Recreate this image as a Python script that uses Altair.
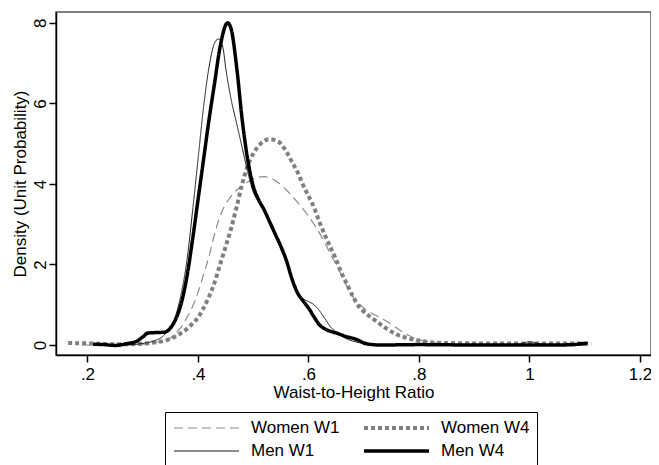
import altair as alt
import pandas as pd

# ---- data ----
series_names = ["Women W1", "Women W4", "Men W1", "Men W4"]

women_w1_x = [0.19, 0.25, 0.30, 0.33, 0.35, 0.36, 0.37, 0.38, 0.39, 0.40, 0.41, 0.42, 0.43, 0.44,
              0.45, 0.46, 0.47, 0.48, 0.49, 0.50, 0.51, 0.52, 0.53, 0.54, 0.55, 0.56, 0.57, 0.58,
              0.59, 0.60, 0.61, 0.62, 0.63, 0.64, 0.65, 0.66, 0.67, 0.68, 0.69, 0.70, 0.72, 0.74,
              0.76, 0.78, 0.80, 0.82, 0.85, 0.90, 1.00, 1.10]
women_w1_y = [0.0, 0.0, 0.02, 0.08, 0.17, 0.30, 0.45, 0.68, 0.95, 1.30, 1.75, 2.20, 2.75, 3.20,
              3.50, 3.70, 3.85, 3.95, 4.05, 4.12, 4.17, 4.18, 4.15, 4.08, 3.98, 3.85, 3.70, 3.55,
              3.38, 3.20, 3.00, 2.78, 2.53, 2.25, 2.00, 1.72, 1.45, 1.20, 1.05, 0.92, 0.75, 0.60,
              0.42, 0.25, 0.13, 0.07, 0.03, 0.01, 0.0, 0.0]

women_w4_x = [0.165, 0.20, 0.25, 0.28, 0.30, 0.32, 0.34, 0.36, 0.37, 0.38, 0.39, 0.40, 0.41, 0.42,
              0.43, 0.44, 0.45, 0.46, 0.47, 0.48, 0.49, 0.50, 0.51, 0.52, 0.53, 0.54, 0.55, 0.56,
              0.57, 0.58, 0.59, 0.60, 0.61, 0.62, 0.63, 0.64, 0.65, 0.66, 0.67, 0.68, 0.69, 0.70,
              0.72, 0.74, 0.76, 0.78, 0.80, 0.83, 0.90, 1.00, 1.10, 1.112]
women_w4_y = [0.05, 0.04, 0.02, 0.02, 0.03, 0.06, 0.11, 0.22, 0.30, 0.40, 0.53, 0.68, 0.92, 1.20,
              1.55, 2.00, 2.44, 2.90, 3.43, 4.00, 4.45, 4.75, 4.95, 5.07, 5.11, 5.08, 5.00, 4.80,
              4.55, 4.30, 3.98, 3.70, 3.42, 3.05, 2.72, 2.42, 2.12, 1.78, 1.50, 1.22, 0.98, 0.83,
              0.62, 0.42, 0.26, 0.17, 0.11, 0.06, 0.04, 0.04, 0.04, 0.04]

men_w1_x = [0.21, 0.25, 0.28, 0.30, 0.32, 0.335, 0.35, 0.36, 0.37, 0.38, 0.39, 0.40, 0.41, 0.42,
            0.43, 0.437, 0.445, 0.45, 0.46, 0.47, 0.48, 0.49, 0.50, 0.51, 0.52, 0.53, 0.54, 0.55,
            0.56, 0.57, 0.58, 0.59, 0.60, 0.61, 0.62, 0.63, 0.64, 0.65, 0.66, 0.67, 0.68, 0.70,
            0.72, 0.80, 0.90, 0.98, 1.00, 1.02, 1.05, 1.10]
men_w1_y = [0.0, 0.0, 0.01, 0.04, 0.10, 0.20, 0.45, 0.75, 1.30, 2.10, 3.30, 4.60, 5.90, 6.90,
            7.50, 7.60, 7.40, 6.90, 6.10, 5.50, 4.90, 4.30, 3.80, 3.55, 3.35, 3.00, 2.70, 2.40,
            2.05, 1.60, 1.30, 1.15, 1.08, 1.00, 0.85, 0.65, 0.45, 0.32, 0.22, 0.15, 0.10, 0.04,
            0.01, 0.0, 0.0, 0.02, 0.08, 0.03, 0.0, 0.0]

men_w4_x = [0.21, 0.23, 0.25, 0.27, 0.29, 0.30, 0.31, 0.325, 0.34, 0.35, 0.36, 0.37, 0.38, 0.39,
            0.40, 0.41, 0.42, 0.43, 0.44, 0.4536, 0.46, 0.47, 0.48, 0.49, 0.50, 0.51, 0.52, 0.53,
            0.54, 0.55, 0.56, 0.57, 0.58, 0.59, 0.60, 0.61, 0.62, 0.63, 0.64, 0.65, 0.66, 0.67,
            0.68, 0.69, 0.70, 0.71, 0.73, 0.80, 0.90, 1.00, 1.05, 1.08, 1.10, 1.105]
men_w4_y = [0.02, 0.01, -0.01, 0.03, 0.10, 0.20, 0.30, 0.31, 0.32, 0.42, 0.65, 1.05, 1.70, 2.60,
            3.60, 4.60, 5.60, 6.50, 7.40, 8.00, 7.85, 6.90, 5.60, 4.60, 3.95, 3.60, 3.35, 3.05,
            2.75, 2.45, 2.10, 1.65, 1.30, 1.10, 0.92, 0.70, 0.50, 0.40, 0.34, 0.30, 0.25, 0.20,
            0.17, 0.12, 0.05, 0.02, 0.0, 0.01, 0.0, 0.0, 0.0, 0.01, 0.04, 0.03]

x_tick_values = [0.2, 0.4, 0.6, 0.8, 1.0, 1.2]
x_tick_labels = [".2", ".4", ".6", ".8", "1", "1.2"]
y_tick_values = [0, 2, 4, 6, 8]

# ---- table ----
frames = []
for name, xs, ys in [("Women W1", women_w1_x, women_w1_y),
                     ("Women W4", women_w4_x, women_w4_y),
                     ("Men W1", men_w1_x, men_w1_y),
                     ("Men W4", men_w4_x, men_w4_y)]:
    frames.append(pd.DataFrame({"ratio": xs, "density": ys, "series": name}))
df = pd.concat(frames, ignore_index=True)

# label expression from the tick arrays
expr = "''"
for v, lab in reversed(list(zip(x_tick_values, x_tick_labels))):
    expr = f"abs(datum.value - {v}) < 0.001 ? '{lab}' : ({expr})"

FONT = "Liberation Sans"

legend = alt.Legend(
    title=None, orient="none", legendX=109, legendY=400,
    direction="horizontal", columns=2,
    strokeColor="black", fillColor="white", padding=7, cornerRadius=0,
    labelFont=FONT, labelFontSize=17, labelColor="black",
    symbolType="stroke", symbolSize=4225, clipHeight=18,
    labelOffset=10, columnPadding=22, rowPadding=5,
)

chart = alt.Chart(df).mark_line(interpolate="monotone").encode(
    x=alt.X("ratio:Q",
            scale=alt.Scale(domain=[0.143, 1.22], nice=False, zero=False),
            axis=alt.Axis(values=x_tick_values, labelExpr=expr,
                          title="Waist-to-Height Ratio", grid=False)),
    y=alt.Y("density:Q",
            scale=alt.Scale(domain=[-0.248, 8.27], nice=False, zero=False),
            axis=alt.Axis(values=y_tick_values, format="d", labelAngle=-90,
                          labelAlign="center", labelBaseline="alphabetic",
                          title="Density (Unit Probability)", grid=False)),
    color=alt.Color("series:N",
                    scale=alt.Scale(domain=series_names,
                                    range=["#8c8c8c", "#7f7f7f", "#1a1a1a", "#000000"]),
                    legend=legend),
    strokeDash=alt.StrokeDash("series:N",
                              scale=alt.Scale(domain=series_names,
                                              range=[[9, 5], [4, 3], [1, 0], [1, 0]]),
                              legend=legend),
    strokeWidth=alt.StrokeWidth("series:N",
                                scale=alt.Scale(type="ordinal", domain=series_names,
                                                range=[1.2, 4, 1, 3.5]),
                                legend=legend),
).properties(
    width=595, height=343,
    background="white",
    autosize=alt.AutoSizeParams(type="none"),
    padding={"left": 48, "top": 4, "right": 0, "bottom": 110},
).configure_view(
    stroke="#555555", strokeWidth=1.5
).configure_axis(
    labelFont=FONT, labelFontSize=17, labelColor="black",
    titleFont=FONT, titleFontSize=17, titleFontWeight="normal", titleColor="black",
    domainColor="black", domainWidth=1.5, tickColor="black", tickWidth=1.5, tickSize=7,
    labelPadding=4, titlePadding=2,
)

chart.save("out.html", embed_options={"renderer": "svg", "actions": False})
